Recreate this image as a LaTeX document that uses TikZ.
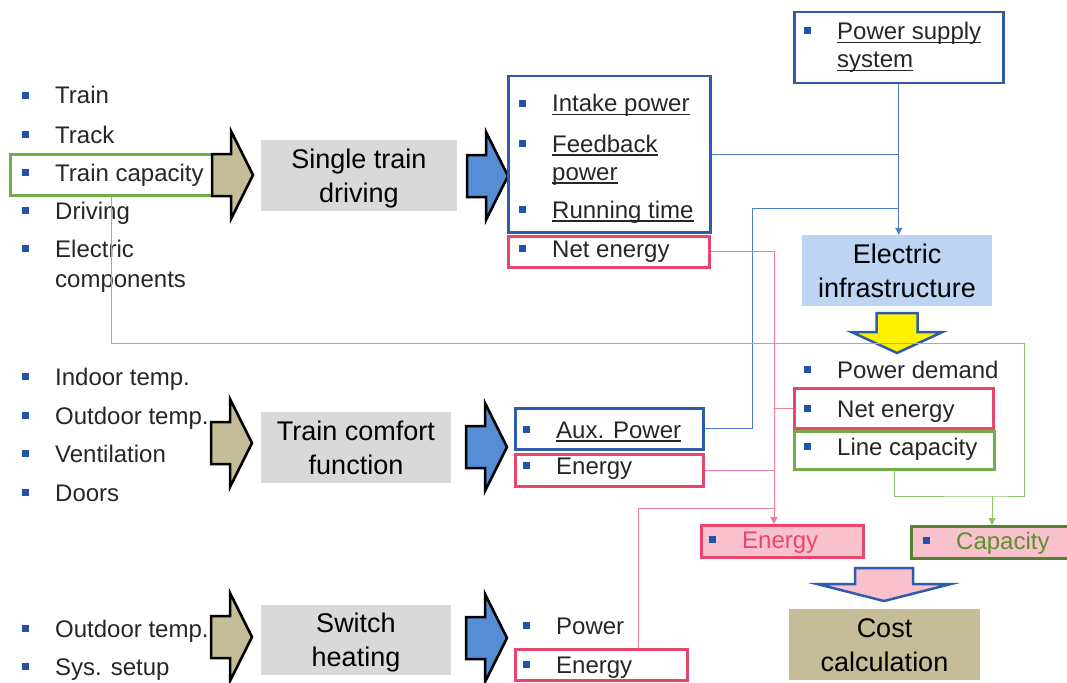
\documentclass[tikz,border=0pt]{standalone}
\usepackage{fontspec}
\setmainfont{Liberation Sans}
\usetikzlibrary{arrows.meta}

\definecolor{bulblue}{HTML}{1F55A8}
\definecolor{boxblue}{HTML}{2D5DAA}
\definecolor{boxred}{HTML}{E9466C}
\definecolor{boxgreen}{HTML}{72AE47}
\definecolor{dkgreen}{HTML}{548235}
\definecolor{capgreen}{HTML}{5E8E2F}
\definecolor{tanfill}{HTML}{C4BD97}
\definecolor{greyfill}{HTML}{D9D9D9}
\definecolor{arrblue}{HTML}{558ED5}
\definecolor{infrablue}{HTML}{BDD5F2}
\definecolor{pinkfill}{HTML}{F8C1CD}
\definecolor{lineblue}{HTML}{4A7CC9}
\definecolor{linered}{HTML}{F27B96}
\definecolor{linegreen}{HTML}{8CC466}
\definecolor{txtgrey}{HTML}{262626}

\tikzset{
  itm/.style={anchor=base west,inner sep=0pt,text=txtgrey,font=\fontsize{24}{29}\selectfont},
  procbox/.style={inner sep=0pt,align=center,font=\fontsize{27}{34}\selectfont},
  sz/.style 2 args={minimum width=#1pt,minimum height=#2pt},
  rbox/.style={anchor=north west,inner sep=0pt,line width=2.5pt,draw=#1},
  tanarr/.style={draw=black,line width=2.5pt,fill=tanfill},
  bluarr/.style={draw=black,line width=2.5pt,fill=arrblue},
  downarr/.style={draw=boxblue,line width=2.5pt},
  bcon/.style={draw=lineblue,line width=1pt},
  rcon/.style={draw=linered,line width=1pt},
  gcon/.style={draw=linegreen,line width=1pt},
  tip/.style={-{Triangle[length=7pt,width=7pt]}}
}

% square bullet hung left of the text start
\newcommand\bsq{\llap{\textcolor{bulblue}{\rule[5.5pt]{7pt}{7pt}}\hspace{26pt}}}
\newcommand\undl[1]{\setbox0=\hbox{#1}\rlap{\rule[-3.5pt]{\wd0}{1.1pt}}\box0}
% two-line label with fixed top and bottom
\newcommand\twoln[2]{\rule{0pt}{25pt}#1\\#2\rule[-6pt]{0pt}{6pt}}
% block arrow pointing right: style, tail x, centre y
\newcommand\rblock[3]{\draw[#1] (#2,#3-21) -- ++(19,0) -- ++(0,-23) -- ++(22,44) -- ++(-22,44) -- ++(0,-23) -- ++(-19,0) -- cycle;}

\begin{document}
\begin{tikzpicture}[x=1pt,y=-1pt]
\useasboundingbox (0,0) rectangle (1067,682);

% train inputs
\node[itm] (trn) at (55,104) {\bsq Train};
\node[itm] (trk) at (55,143) {\bsq Track};
\node[itm] (tcap) at (55,181) {\bsq Train capacity};
\node[itm] (drv) at (55,219) {\bsq Driving};
\node[itm] (elc) at (55,257) {\bsq Electric};
\node[itm] (elc2) at (55,287) {components};
\node[rbox=boxgreen,sz={203}{41}] (capbox) at (9,153) {};
\rblock{tanarr}{212}{175}
\node[procbox,fill=greyfill,sz={196}{71}] (sgl) at (359,175.5) {\twoln{Single train}{driving}};
\rblock{bluarr}{467}{176}

\node[rbox=boxblue,sz={202}{156}] (drvout) at (507,75) {};
\node[itm] (intk) at (552,112) {\bsq\undl{Intake power}};
\node[itm] (fdb) at (552,152) {\bsq\undl{Feedback}};
\node[itm] (fdb2) at (552,180) {\undl{power}};
\node[itm] (rtime) at (552,218) {\bsq\undl{Running time}};
\node[rbox=boxred,sz={201}{31}] (netbox) at (507,235) {};
\node[itm] (net) at (552,257) {\bsq Net energy};

% power supply and infrastructure
\node[rbox=boxblue,sz={209}{71}] (psbox) at (793,11) {};
\node[itm] (ps) at (837,40) {\bsq\undl{Power supply}};
\node[itm] (ps2) at (837,68) {\undl{system}};
\node[procbox,fill=infrablue,sz={190}{71}] (elbox) at (897,270.5) {\twoln{Electric}{infrastructure}};
\draw[downarr,fill=yellow] (876.5,313) -- (917.5,313) -- (917.5,332) -- (942.5,332) -- (897,353) -- (851.5,332) -- (876.5,332) -- cycle;
\node[itm] (pdem) at (837,378) {\bsq Power demand};
\node[rbox=boxred,sz={199}{40}] (rnetbox) at (793,387) {};
\node[itm] (rnet) at (837,417) {\bsq Net energy};
\node[rbox=boxgreen,sz={200}{38}] (lcapbox) at (793,430) {};
\node[itm] (lcap) at (837,455) {\bsq Line capacity};

% comfort inputs
\node[itm] (indr) at (55,385) {\bsq Indoor temp.};
\node[itm] (outd) at (55,424) {\bsq Outdoor temp.};
\node[itm] (vent) at (55,462) {\bsq Ventilation};
\node[itm] (door) at (55,501) {\bsq Doors};
\rblock{tanarr}{211}{443}
\node[procbox,fill=greyfill,sz={190}{71}] (cmf) at (356,447.5) {\twoln{Train comfort}{function}};
\rblock{bluarr}{466}{447}
\node[rbox=boxblue,sz={188}{41}] (auxbox) at (514,407) {};
\node[itm] (aux) at (556,438) {\bsq\undl{Aux. Power}};
\node[rbox=boxred,sz={188}{32}] (enbox) at (514,453) {};
\node[itm] (en) at (556,474) {\bsq Energy};

% switch heating inputs
\node[itm] (outd2) at (55,637) {\bsq Outdoor temp.};
\node[itm] (sys) at (55,675) {\bsq Sys. setup};
\rblock{tanarr}{211}{637}
\node[procbox,fill=greyfill,sz={190}{70}] (sw) at (356,640) {\twoln{Switch}{heating}};
\rblock{bluarr}{466}{638}
\node[itm] (pow) at (556,634) {\bsq Power};
\node[rbox=boxred,sz={172}{31}] (enbox2) at (514,648) {};
\node[itm] (en2) at (556,673) {\bsq Energy};

% cost inputs
\node[rbox=boxred,fill=pinkfill,sz={162}{32}] (pkbox) at (700,524) {};
\node[itm,text=boxred] (pken) at (742,548) {\bsq Energy};
\node[rbox=dkgreen,fill=pinkfill,sz={170}{32}] (capout) at (910,525) {};
\node[itm,text=capgreen] (cap) at (956,549) {\bsq Capacity};
\draw[downarr,fill=pinkfill] (855,568) -- (913,568) -- (913,584) -- (951,584) -- (884,601) -- (817,584) -- (855,584) -- cycle;
\node[procbox,fill=tanfill,sz={191}{71}] (cost) at (884.5,644.5) {\twoln{Cost}{calculation}};

% connectors
\coordinate (bj) at (752,208);
\coordinate (rj) at (774,508);
\coordinate (gj) at (1024,343);
\coordinate (gm) at (992,496);
\draw[bcon,tip] (psbox.south) -- (psbox.south |- elbox.north);
\draw[bcon] (drvout.east) -- (drvout.east -| psbox.south);
\draw[bcon] (auxbox.east) -| (bj) -- (bj -| psbox.south);
\draw[rcon,tip] (netbox.east) -| (rj |- pkbox.north);
\draw[rcon] (rnetbox.west) -- (rnetbox.west -| rj);
\draw[rcon] (enbox.east) -- (enbox.east -| rj);
\draw[rcon] ([xshift=37pt]enbox2.north) |- (rj);
\draw[gcon] (capbox.south) |- (gj) |- (gm) -- (gm -| lcapbox.south) -- (lcapbox.south);
\draw[gcon,tip] (gm) -- (gm |- capout.north);
\end{tikzpicture}
\end{document}
